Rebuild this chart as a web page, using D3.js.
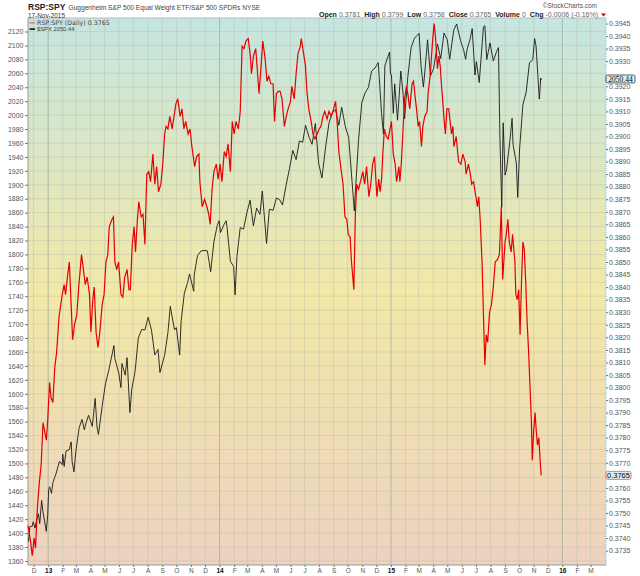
<!DOCTYPE html>
<html>
<head>
<meta charset="utf-8">
<script src="https://cdn.jsdelivr.net/npm/d3@7"></script>
<style>
  body { margin: 0; background: #fff; }
  svg text { font-family: "Liberation Sans", Arial, sans-serif; }
</style>
</head>
<body>
<svg id="chart" width="640" height="576"></svg>
<script>
// ---- data ----
const spxDates = [
  "2012-11-20","2012-11-23","2012-11-28","2012-11-30","2012-12-04","2012-12-07","2012-12-11","2012-12-14","2012-12-18","2012-12-21","2012-12-28","2012-12-31",
  "2013-01-02","2013-01-04","2013-01-08","2013-01-11","2013-01-18","2013-01-25","2013-01-31","2013-02-01","2013-02-04","2013-02-08","2013-02-15","2013-02-19",
  "2013-02-21","2013-02-25","2013-03-01","2013-03-08","2013-03-14","2013-03-19","2013-03-22","2013-03-28","2013-04-05","2013-04-11","2013-04-15","2013-04-18",
  "2013-04-26","2013-05-03","2013-05-10","2013-05-21","2013-05-23","2013-05-31","2013-06-05","2013-06-07","2013-06-14","2013-06-18","2013-06-24","2013-06-28",
  "2013-07-05","2013-07-12","2013-07-19","2013-07-26","2013-08-02","2013-08-09","2013-08-16","2013-08-23","2013-08-27","2013-09-06","2013-09-13","2013-09-18",
  "2013-09-27","2013-10-01","2013-10-08","2013-10-11","2013-10-18","2013-10-25","2013-10-29","2013-11-07","2013-11-08","2013-11-15","2013-11-22","2013-11-29",
  "2013-12-06","2013-12-13","2013-12-20","2013-12-27","2013-12-31","2014-01-03","2014-01-10","2014-01-15","2014-01-17","2014-01-24","2014-01-31","2014-02-03",
  "2014-02-07","2014-02-14","2014-02-21","2014-02-28","2014-03-07","2014-03-14","2014-03-21","2014-03-28","2014-04-02","2014-04-11","2014-04-17","2014-04-25",
  "2014-05-02","2014-05-09","2014-05-15","2014-05-23","2014-05-30","2014-06-06","2014-06-13","2014-06-20","2014-06-27","2014-07-03","2014-07-11","2014-07-17",
  "2014-07-24","2014-07-31","2014-08-07","2014-08-15","2014-08-22","2014-08-29","2014-09-05","2014-09-12","2014-09-18","2014-09-26","2014-10-03","2014-10-10",
  "2014-10-15","2014-10-17","2014-10-24","2014-10-31","2014-11-07","2014-11-14","2014-11-21","2014-11-28","2014-12-05","2014-12-12","2014-12-16","2014-12-19",
  "2014-12-29","2014-12-31","2015-01-02","2015-01-06","2015-01-09","2015-01-15","2015-01-22","2015-01-27","2015-01-30","2015-02-06","2015-02-13","2015-02-20",
  "2015-02-25","2015-03-02","2015-03-06","2015-03-11","2015-03-13","2015-03-20","2015-03-26","2015-04-02","2015-04-10","2015-04-17","2015-04-24","2015-05-01",
  "2015-05-06","2015-05-15","2015-05-21","2015-05-29","2015-06-05","2015-06-09","2015-06-12","2015-06-19","2015-06-23","2015-06-29","2015-07-02","2015-07-08",
  "2015-07-17","2015-07-20","2015-07-24","2015-07-31","2015-08-07","2015-08-14","2015-08-18","2015-08-21","2015-08-24","2015-08-25","2015-08-28","2015-09-01",
  "2015-09-04","2015-09-11","2015-09-16","2015-09-18","2015-09-25","2015-09-28","2015-10-02","2015-10-09","2015-10-16","2015-10-23","2015-10-30","2015-11-03",
  "2015-11-06","2015-11-13","2015-11-16","2015-11-17"
];
const spxValues = [
  1387.8,1409.2,1409.9,1416.2,1407.1,1418.1,1427.8,1413.6,1446.8,1430.2,1402.4,1426.2,
  1462.4,1466.5,1457.2,1472.1,1486.0,1503.0,1498.1,1513.2,1495.7,1517.9,1519.8,1530.9,
  1502.4,1487.9,1518.2,1551.2,1563.2,1548.3,1556.9,1569.2,1553.3,1593.4,1552.4,1541.6,
  1582.2,1614.4,1633.7,1669.2,1650.5,1630.7,1608.9,1643.4,1626.7,1651.8,1573.1,1606.3,
  1631.9,1680.2,1692.1,1691.7,1709.7,1691.4,1655.8,1663.5,1630.5,1655.2,1688.0,1725.5,
  1691.8,1695.0,1655.5,1703.2,1744.5,1759.8,1771.9,1747.2,1770.6,1798.2,1804.8,1805.8,
  1805.1,1775.3,1818.3,1841.4,1848.4,1831.4,1842.4,1848.4,1838.7,1790.3,1782.6,1741.9,
  1797.0,1838.6,1836.3,1859.5,1878.0,1841.1,1866.5,1857.6,1890.9,1815.7,1864.9,1863.4,
  1881.1,1878.5,1870.9,1900.5,1923.6,1949.4,1936.2,1962.9,1961.0,1985.4,1967.6,1958.1,
  1988.0,1930.7,1909.6,1955.1,1988.4,2003.4,2007.7,1985.5,2011.4,1982.9,1967.9,1906.1,
  1862.5,1886.8,1964.6,2018.1,2031.9,2039.8,2063.5,2067.6,2075.4,2002.3,1972.7,2070.7,
  2090.6,2058.9,2058.2,2002.6,2044.8,1992.7,2063.2,2029.6,1995.0,2055.5,2097.0,2110.3,
  2113.9,2117.4,2071.3,2040.2,2053.4,2108.1,2056.2,2067.0,2102.1,2081.2,2117.7,2108.3,
  2080.2,2122.7,2130.8,2107.4,2092.8,2080.2,2094.1,2110.0,2124.2,2057.6,2076.8,2046.7,
  2126.6,2128.3,2079.7,2103.8,2077.6,2091.5,2096.9,1970.9,1893.2,1867.6,1988.9,1913.9,
  1921.2,1961.1,1995.3,1958.0,1931.3,1881.8,1951.4,2014.9,2033.1,2075.2,2079.4,2109.8,
  2099.2,2023.0,2053.2,2050.44
];

const ratioDates = [
  "2012-11-19","2012-11-25","2012-11-28","2012-12-02","2012-12-05","2012-12-09","2012-12-13","2012-12-17","2012-12-21","2012-12-25","2012-12-28","2012-12-31",
  "2013-01-04","2013-01-07","2013-01-11","2013-01-15","2013-01-19","2013-01-24","2013-01-27","2013-01-31","2013-02-04","2013-02-07","2013-02-11","2013-02-15",
  "2013-02-18","2013-02-22","2013-02-26","2013-03-03","2013-03-07","2013-03-13","2013-03-17","2013-03-21","2013-03-25","2013-03-30","2013-04-02","2013-04-06",
  "2013-04-09","2013-04-13","2013-04-17","2013-04-21","2013-04-26","2013-04-30","2013-05-04","2013-05-08","2013-05-11","2013-05-17","2013-05-20","2013-05-23",
  "2013-05-27","2013-05-31","2013-06-05","2013-06-09","2013-06-13","2013-06-18","2013-06-22","2013-06-25","2013-06-29","2013-07-03","2013-07-06","2013-07-10",
  "2013-07-13","2013-07-18","2013-07-22","2013-07-26","2013-07-30","2013-08-03","2013-08-07","2013-08-12","2013-08-16","2013-08-20","2013-08-24","2013-08-29",
  "2013-09-02","2013-09-06","2013-09-09","2013-09-13","2013-09-17","2013-09-22","2013-09-26","2013-09-30","2013-10-04","2013-10-09","2013-10-13","2013-10-17",
  "2013-10-21","2013-10-26","2013-10-30","2013-11-03","2013-11-09","2013-11-13","2013-11-18","2013-11-20","2013-11-25","2013-11-30","2013-12-05","2013-12-09",
  "2013-12-12","2013-12-16","2013-12-20","2013-12-25","2013-12-29","2014-01-02","2014-01-06","2014-01-11","2014-01-15","2014-01-19","2014-01-24","2014-01-28",
  "2014-02-01","2014-02-05","2014-02-10","2014-02-14","2014-02-18","2014-02-22","2014-02-26","2014-03-03","2014-03-07","2014-03-10","2014-03-14","2014-03-19",
  "2014-03-23","2014-03-26","2014-03-30","2014-04-03","2014-04-08","2014-04-12","2014-04-16","2014-04-20","2014-04-25","2014-04-28","2014-05-02","2014-05-06",
  "2014-05-10","2014-05-14","2014-05-19","2014-05-23","2014-05-27","2014-06-01","2014-06-04","2014-06-09","2014-06-13","2014-06-17","2014-06-22","2014-06-24",
  "2014-06-29","2014-07-03","2014-07-06","2014-07-10","2014-07-15","2014-07-19","2014-07-23","2014-07-28","2014-08-01","2014-08-05","2014-08-09","2014-08-13",
  "2014-08-18","2014-08-22","2014-08-27","2014-09-01","2014-09-05","2014-09-08","2014-09-12","2014-09-16","2014-09-21","2014-09-25","2014-09-29","2014-10-02",
  "2014-10-06","2014-10-09","2014-10-14","2014-10-17","2014-10-20","2014-10-24","2014-10-28","2014-11-02","2014-11-06","2014-11-10","2014-11-15","2014-11-19",
  "2014-11-23","2014-11-27","2014-12-02","2014-12-06","2014-12-09","2014-12-12","2014-12-15","2014-12-18","2014-12-22","2014-12-26","2014-12-31","2015-01-02",
  "2015-01-06","2015-01-10","2015-01-13","2015-01-18","2015-01-20","2015-01-23","2015-01-26","2015-01-30","2015-02-03","2015-02-06","2015-02-10","2015-02-15",
  "2015-02-18","2015-02-22","2015-02-25","2015-02-28","2015-03-03","2015-03-07","2015-03-10","2015-03-14","2015-03-19","2015-03-21","2015-03-26","2015-03-28",
  "2015-03-31","2015-04-03","2015-04-06","2015-04-10","2015-04-13","2015-04-16","2015-04-18","2015-04-21","2015-04-24","2015-04-27","2015-04-30","2015-05-04",
  "2015-05-07","2015-05-10","2015-05-13","2015-05-15","2015-05-20","2015-05-22","2015-05-25","2015-05-30","2015-06-03","2015-06-08","2015-06-10","2015-06-15",
  "2015-06-19","2015-06-22","2015-06-26","2015-06-29","2015-07-02","2015-07-04","2015-07-07","2015-07-10","2015-07-14","2015-07-17","2015-07-20","2015-07-23",
  "2015-07-26","2015-07-30","2015-08-03","2015-08-07","2015-08-11","2015-08-16","2015-08-20","2015-08-24","2015-08-27","2015-09-01","2015-09-03","2015-09-07",
  "2015-09-10","2015-09-14","2015-09-17","2015-09-22","2015-09-24","2015-09-27","2015-09-30","2015-10-03","2015-10-06","2015-10-09","2015-10-12","2015-10-15",
  "2015-10-18","2015-10-21","2015-10-24","2015-10-27","2015-10-29","2015-11-01","2015-11-04","2015-11-06","2015-11-09","2015-11-12","2015-11-15","2015-11-17"
];
const ratioValues = [
  .3745,.3738,.3733,.3740,.3736,.3752,.3762,.3769,.3786,.3782,.3779,.3787,
  .3802,.3796,.3794,.3808,.3814,.3828,.3832,.3837,.3841,.3837,.3844,.3850,
  .3837,.3819,.3825,.3829,.3840,.3853,.3847,.3841,.3844,.3837,.3822,.3835,
  .3840,.3822,.3816,.3822,.3833,.3837,.3850,.3853,.3864,.3867,.3868,.3850,
  .3847,.3850,.3837,.3836,.3844,.3847,.3839,.3839,.3857,.3864,.3854,.3867,
  .3874,.3868,.3869,.3857,.3885,.3886,.3882,.3893,.3881,.3888,.3878,.3881,
  .3889,.3901,.3904,.3903,.3908,.3903,.3908,.3913,.3915,.3908,.3911,.3903,
  .3906,.3901,.3903,.3896,.3888,.3892,.3893,.3882,.3872,.3875,.3872,.3869,
  .3865,.3879,.3886,.3889,.3883,.3889,.3882,.3894,.3892,.3897,.3886,.3906,
  .3901,.3906,.3903,.3910,.3936,.3935,.3938,.3939,.3933,.3925,.3932,.3935,
  .3925,.3917,.3927,.3938,.3931,.3922,.3924,.3921,.3921,.3906,.3917,.3918,
  .3918,.3915,.3904,.3908,.3911,.3914,.3920,.3915,.3925,.3933,.3936,.3939,
  .3933,.3928,.3918,.3911,.3906,.3901,.3899,.3901,.3903,.3904,.3908,.3910,
  .3907,.3910,.3908,.3911,.3914,.3907,.3894,.3888,.3881,.3868,.3867,.3861,
  .3860,.3850,.3839,.3868,.3881,.3879,.3882,.3886,.3881,.3888,.3876,.3881,
  .3889,.3892,.3876,.3883,.3878,.3883,.3894,.3903,.3900,.3899,.3904,.3906,
  .3893,.3889,.3882,.3888,.3882,.3889,.3900,.3915,.3920,.3917,.3911,.3921,
  .3922,.3915,.3910,.3904,.3906,.3896,.3904,.3908,.3910,.3917,.3925,.3931,
  .3939,.3945,.3939,.3927,.3932,.3928,.3922,.3915,.3907,.3901,.3911,.3911,
  .3906,.3901,.3904,.3896,.3900,.3896,.3890,.3889,.3893,.3890,.3885,.3889,
  .3885,.3881,.3882,.3878,.3875,.3872,.3876,.3867,.3850,.3829,.3809,.3821,
  .3818,.3830,.3833,.3840,.3850,.3851,.3853,.3872,.3843,.3858,.3860,.3867,
  .3858,.3854,.3861,.3850,.3837,.3835,.3839,.3821,.3842,.3858,.3855,.3842,
  .3826,.3815,.3801,.3787,.3771,.3783,.3790,.3784,.3777,.3780,.3770,.3765
];

const spxTicks = d3.range(1360, 2121, 20);
const ratioTicks = d3.range(7470, 7891, 10).map(v => v / 20000);
const monthLetters = ["J","F","M","A","M","J","J","A","S","O","N","D"];

const title = "RSP:SPY";
const subtitle = "Guggenheim S&P 500 Equal Weight ETF/S&P 500 SPDRs  NYSE";
const dateLabel = "17-Nov-2015";
const quote = [
  ["Open", "0.3781"], ["High", "0.3799"], ["Low", "0.3758"], ["Close", "0.3765"],
  ["Volume", "0"], ["Chg", "-0.0006 (-0.16%)"]
];

// ---- layout ----
const plot = { left: 28, right: 606, top: 18, bottom: 565 };
const parse = d3.timeParse("%Y-%m-%d");

const spx = spxDates.map((d, i) => ({ date: parse(d), value: spxValues[i] }));
const ratio = ratioDates.map((d, i) => ({ date: parse(d), value: ratioValues[i] }));

const x = d3.scaleTime()
  .domain([new Date(2012, 10, 19), new Date(2016, 3, 3)])
  .range([plot.left, plot.right]);
const yLeft = d3.scaleLinear().domain([1354.2, 2139.4]).range([plot.bottom, plot.top]);
const yRight = d3.scaleLinear().domain([0.37293, 0.39472]).range([plot.bottom, plot.top]);

const lastSpx = spx[spx.length - 1];
const lastRatio = ratio[ratio.length - 1];

const svg = d3.select("#chart");

// background gradient
const grad = svg.append("defs").append("linearGradient")
  .attr("id", "bg").attr("x1", 0).attr("y1", 0).attr("x2", 0).attr("y2", 1);
grad.append("stop").attr("offset", "0%").attr("stop-color", "#c4e5e1");
grad.append("stop").attr("offset", "50%").attr("stop-color", "#f2e8a7");
grad.append("stop").attr("offset", "100%").attr("stop-color", "#ecd2c0");

svg.append("rect")
  .attr("x", plot.left).attr("y", plot.top)
  .attr("width", plot.right - plot.left).attr("height", plot.bottom - plot.top)
  .attr("fill", "url(#bg)");

// grid
const months = d3.timeMonth.range(new Date(2012, 11, 1), new Date(2016, 2, 31));
const grid = svg.append("g");
grid.selectAll(".vg")
  .data(months)
  .join("line")
    .attr("x1", d => x(d)).attr("x2", d => x(d))
    .attr("y1", plot.top).attr("y2", plot.bottom)
    .attr("stroke", d => d.getMonth() === 0 ? "#9aa89a" : "#b9bcaa")
    .attr("stroke-opacity", d => d.getMonth() === 0 ? 0.9 : 0.55)
    .attr("stroke-width", 0.8);
grid.selectAll(".hg")
  .data(spxTicks)
  .join("line")
    .attr("x1", plot.left).attr("x2", plot.right)
    .attr("y1", d => yLeft(d)).attr("y2", d => yLeft(d))
    .attr("stroke", "#b9bcaa").attr("stroke-opacity", 0.5)
    .attr("stroke-width", 0.8);

// frame
svg.append("line")
  .attr("x1", plot.left).attr("x2", plot.left).attr("y1", plot.top).attr("y2", plot.bottom)
  .attr("stroke", "#999");
svg.append("line")
  .attr("x1", plot.left).attr("x2", plot.right).attr("y1", plot.bottom).attr("y2", plot.bottom)
  .attr("stroke", "#999");
svg.append("line")
  .attr("x1", plot.left).attr("x2", plot.right).attr("y1", plot.top).attr("y2", plot.top)
  .attr("stroke", "#bbb");
svg.append("line")
  .attr("x1", plot.right).attr("x2", plot.right).attr("y1", plot.top).attr("y2", plot.bottom)
  .attr("stroke", "#8fb4c8").attr("stroke-dasharray", "1,1");

// axes (ratio tick labels hidden where a value box covers them)
const boxYs = [yLeft(lastSpx.value) - 1, yRight(lastRatio.value)];
const leftAxis = svg.append("g")
  .attr("transform", `translate(${plot.left},0)`)
  .call(d3.axisLeft(yLeft).tickValues(spxTicks).tickFormat(d3.format("d")).tickSize(3).tickPadding(1.5));
const rightAxis = svg.append("g")
  .attr("transform", `translate(${plot.right},0)`)
  .call(d3.axisRight(yRight)
    .tickValues(ratioTicks.filter(t => boxYs.every(b => Math.abs(yRight(t) - b) > 6.5)))
    .tickFormat(d3.format(".4f")).tickSize(2).tickPadding(1));
const bottomAxis = svg.append("g")
  .attr("transform", `translate(0,${plot.bottom})`)
  .call(d3.axisBottom(x).tickValues(months).tickSize(2).tickPadding(1.5)
    .tickFormat(d => d.getMonth() === 0 ? d3.timeFormat("%y")(d) : monthLetters[d.getMonth()]));

[leftAxis, rightAxis, bottomAxis].forEach(a => {
  a.select(".domain").remove();
  a.selectAll(".tick line").attr("stroke", "#777");
  a.selectAll(".tick text").attr("fill", "#555").attr("font-size", 7)
    .style("font-family", "'Liberation Sans', Arial, sans-serif");
});
bottomAxis.selectAll(".tick text")
  .attr("font-size", 6.5)
  .attr("fill", d => d.getMonth() === 0 ? "#111" : "#555")
  .attr("font-weight", d => d.getMonth() === 0 ? "bold" : "normal");

// series
const spxLine = d3.line().x(d => x(d.date)).y(d => yLeft(d.value));
const ratioLine = d3.line().x(d => x(d.date)).y(d => yRight(d.value));

svg.append("path")
  .datum(spx)
  .attr("d", spxLine)
  .attr("fill", "none").attr("stroke", "#1a1a1a").attr("stroke-width", 0.9);
svg.append("path")
  .datum(ratio)
  .attr("d", ratioLine)
  .attr("fill", "none").attr("stroke", "#e60000").attr("stroke-width", 1.2);

// value boxes on right axis
const boxes = [
  { y: boxYs[0], text: d3.format(".2f")(lastSpx.value), stroke: "#333", w: 29, font: "'Liberation Serif', serif" },
  { y: boxYs[1], text: d3.format(".4f")(lastRatio.value), stroke: "#e06060", w: 25, font: "'Liberation Sans', Arial, sans-serif" }
];
const boxG = svg.selectAll(".vbox").data(boxes).join("g");
boxG.append("rect")
  .attr("x", plot.right).attr("y", d => d.y - 4)
  .attr("width", d => d.w).attr("height", 8).attr("rx", 1.5)
  .attr("fill", "#d8f2f2").attr("stroke", d => d.stroke).attr("stroke-width", 0.8);
boxG.append("text")
  .attr("x", d => plot.right + d.w / 2).attr("y", d => d.y + 2.7)
  .attr("text-anchor", "middle").attr("font-size", 7.5).attr("fill", "#000")
  .style("font-family", d => d.font)
  .text(d => d.text);

// header
svg.append("text").attr("x", 28).attr("y", 10)
  .attr("font-size", 8.5).attr("font-weight", "bold").attr("fill", "#222").text(title);
svg.append("text").attr("x", 68.5).attr("y", 10)
  .attr("font-size", 6.6).attr("fill", "#444").text(subtitle);
svg.append("text").attr("x", 28).attr("y", 18.2)
  .attr("font-size", 6.4).attr("fill", "#333").text(dateLabel);
svg.append("text").attr("x", 597).attr("y", 8).attr("text-anchor", "end")
  .attr("font-size", 6.5).attr("fill", "#555").text("\u00a9StockCharts.com");

const q = svg.append("text").attr("x", 598).attr("y", 17.3).attr("text-anchor", "end")
  .attr("font-size", 7);
quote.forEach(([label, value], i) => {
  q.append("tspan").attr("font-weight", "bold").attr("fill", "#222")
    .attr("dx", i === 0 ? 0 : 4).text(label);
  q.append("tspan").attr("fill", "#666").attr("dx", 2).text(value);
});
svg.append("path")
  .attr("d", "M601,13.5 L606,13.5 L603.5,16.5 Z")
  .attr("fill", "#c00000");

// legend
const legend = [
  { text: "RSP:SPY (Daily) " + d3.format(".4f")(lastRatio.value), color: "#e87878", y: 25, size: 6.3, font: "'DejaVu Sans', sans-serif" },
  { text: "$SPX " + d3.format(".2f")(lastSpx.value), color: "#000", y: 31.3, size: 5.8, font: "'Liberation Sans', Arial, sans-serif" }
];
const lg = svg.selectAll(".lg").data(legend).join("g");
lg.append("line")
  .attr("x1", 29.5).attr("x2", 35).attr("y1", d => d.y - 2.2).attr("y2", d => d.y - 2.2)
  .attr("stroke", d => d.color).attr("stroke-width", 1.5);
lg.append("text")
  .attr("x", 37).attr("y", d => d.y)
  .attr("font-size", d => d.size).attr("fill", "#444")
  .style("font-family", d => d.font)
  .text(d => d.text);
</script>
</body>
</html>
